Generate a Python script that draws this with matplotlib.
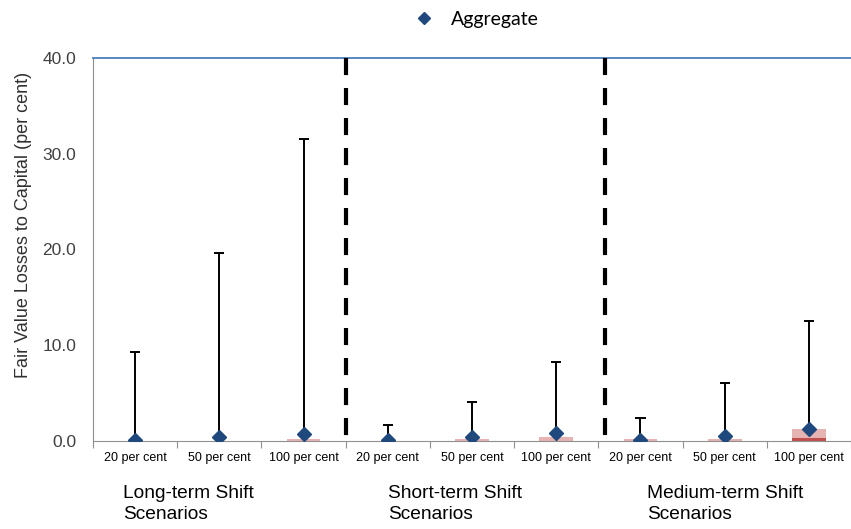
import numpy as np
import matplotlib.pyplot as plt

# data
categories = ['20 per cent', '50 per cent', '100 per cent'] * 3
groups = ['Long-term Shift\nScenarios', 'Short-term Shift\nScenarios', 'Medium-term Shift\nScenarios']
aggregate = [0.1, 0.4, 0.7, 0.1, 0.4, 0.8, 0.1, 0.5, 1.3]
upper = [9.3, 19.6, 31.5, 1.7, 4.1, 8.3, 2.4, 6.1, 12.5]
pink_bar = [0.0, 0.0, 0.2, 0.0, 0.2, 0.4, 0.2, 0.2, 1.3]
dark_bar = [0.0, 0.0, 0.0, 0.0, 0.0, 0.0, 0.0, 0.0, 0.3]

plt.rcParams['font.family'] = ['Liberation Sans', 'DejaVu Sans']

fig = plt.figure(figsize=(8.51, 5.29), dpi=100)
ax = fig.add_axes([0.1093, 0.1664, 0.8907, 0.724])

x = np.arange(len(categories))

# bars
ax.bar(x, pink_bar, width=0.4, color='#e6b3b3', zorder=1)
ax.bar(x, dark_bar, width=0.4, color='#c0504d', zorder=1)

# whiskers from aggregate to upper value
ax.vlines(x, aggregate, upper, color='black', lw=1.4, zorder=2)
ax.hlines(upper, x - 0.06, x + 0.06, color='black', lw=1.4, zorder=2)

# aggregate markers
ax.plot(x, aggregate, ls='none', marker='D', ms=7.5, color='#1f497d', zorder=3, label='Aggregate')

# group separators
for sep in [2.5, 5.58]:
    ax.plot([sep, sep], [40, 0], color='black', lw=3, ls=(0, (4.1, 3.1)), zorder=4)

ax.set_xlim(-0.5, 8.5)
ax.set_ylim(0, 40)
ax.set_yticks([0, 10, 20, 30, 40])
ax.set_yticklabels(['%.1f' % v for v in [0, 10, 20, 30, 40]], fontsize=12.5, color='#404040')
ax.tick_params(axis='y', length=0, pad=12)

ax.set_xticks(np.arange(-0.5, 9, 1))
ax.set_xticklabels([])
ax.set_xticks(x, minor=True)
ax.set_xticklabels(categories, minor=True, fontsize=9)
ax.tick_params(axis='x', which='major', length=5, color='#909090', direction='out')
ax.tick_params(axis='x', which='minor', length=0, pad=8)

ax.spines['right'].set_visible(False)
ax.spines['left'].set_color('#909090')
ax.spines['bottom'].set_color('#909090')
ax.spines['top'].set_color('#4a7ebb')
ax.spines['top'].set_linewidth(1.3)

ax.set_ylabel('Fair Value Losses to Capital (per cent)', fontsize=13, color='#303030')
ax.yaxis.set_label_coords(-0.08, 0.564)

# group labels
for gx, g in zip([0.145, 0.456, 0.76], groups):
    fig.text(gx, 0.083, g, fontsize=13.8, ha='left', va='top', linespacing=1.3)

ax.legend(loc='center', bbox_to_anchor=(0.5, 1.1), frameon=False,
          prop={'family': 'Lato', 'size': 14}, handletextpad=0.4, markerscale=0.8)

plt.savefig('out.png', dpi=100)
